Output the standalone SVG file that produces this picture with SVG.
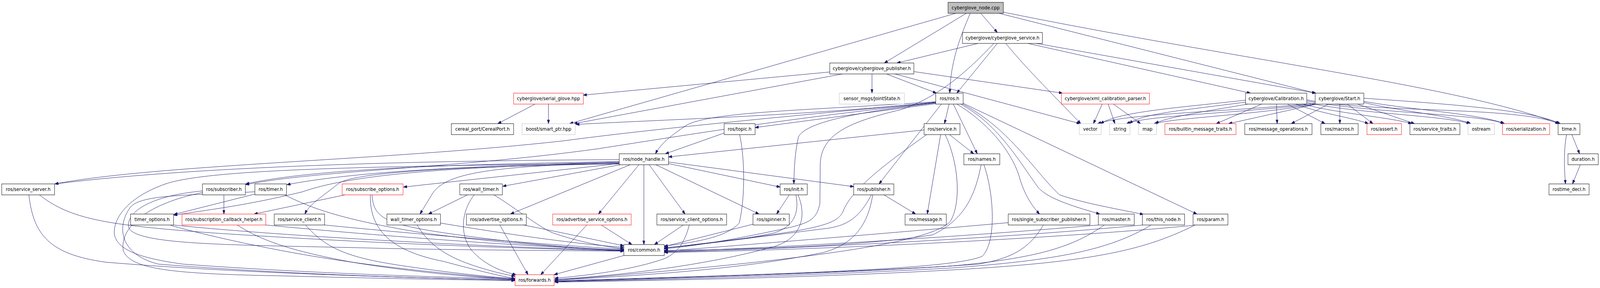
<svg xmlns="http://www.w3.org/2000/svg" width="4545" height="736" viewBox="0 0 4545 736" preserveAspectRatio="none" style="width:100vw;height:100vh;display:block">
<style>
.n{fill:#fff;stroke:#000;stroke-width:1}
.r{fill:#fff;stroke:#ff0000;stroke-width:1}
.g{fill:#fff;stroke:#bfbfbf;stroke-width:1}
.k{fill:#bfbfbf;stroke:#000;stroke-width:1}
text{font-family:"DejaVu Sans","Liberation Sans",sans-serif;font-size:12.8px;text-anchor:middle;fill:#000}
.e path{fill:none;stroke:#191970;stroke-width:1;marker-end:url(#a)}
</style>
<defs>
<marker id="a" viewBox="0 0 10 7" refX="10" refY="3.5" markerWidth="10" markerHeight="7" orient="auto" markerUnits="userSpaceOnUse"><path d="M0,0 L10,3.5 L0,7 z" fill="#191970" stroke="#191970"/></marker>
</defs>
<rect width="4545" height="736" fill="#fff"/>
<g class="e" id="edges">
<path d="M2715,34 L1618,316"/>
<path d="M2745,34 L2512,161"/>
<path d="M2756,34 C2725,100 2700,160 2698,238"/>
<path d="M2786,34 L2833,83"/>
<path d="M2838,34 L3737,238"/>
<path d="M2850,31 C3500,150 4150,220 4428,316"/>
<path d="M2778,111 L2548,161"/>
<path d="M2833,111 L2718,238"/>
<path d="M2823,111 C2740,190 2660,250 2560,280 C2420,310 2332,340 2330,420 L2329,520 C2320,560 2300,568 2250,580 C2100,610 1980,628 1887,636"/>
<path d="M2357,184 L1657,243"/>
<path d="M2393,189 L1630,316"/>
<path d="M2477,189 L2477,238"/>
<path d="M2518,189 L2660,238"/>
<path d="M2542,189 L3068,316"/>
<path d="M2596,183 L3018,238"/>
<path d="M2857,111 C2920,180 3000,250 3070,316"/>
<path d="M2920,111 L3552,238"/>
<path d="M2944,111 L3738,238"/>
<path d="M1520,266 L1414,316"/>
<path d="M1558,266 L1558,316"/>
<path d="M3131,266 L3106,316"/>
<path d="M3148,266 L3167,316"/>
<path d="M3163,266 L3240,316"/>
<path d="M3538,256 C3350,275 3180,285 3126,316"/>
<path d="M3538,261 C3380,280 3240,290 3208,316"/>
<path d="M3545,266 C3420,285 3310,300 3282,316"/>
<path d="M3584,266 L3455,316"/>
<path d="M3626,266 L3628,316"/>
<path d="M3657,266 L3764,316"/>
<path d="M3681,266 C3750,290 3840,300 3887,316"/>
<path d="M3700,266 C3800,290 3950,300 4010,316"/>
<path d="M3712,262 C3850,290 4100,295 4176,316"/>
<path d="M3712,258 C3900,290 4200,290 4272,316"/>
<path d="M3712,255 C3900,290 4300,270 4430,316"/>
<path d="M3736,264 C3500,285 3200,290 3118,316"/>
<path d="M3736,266 C3500,290 3260,295 3200,316"/>
<path d="M3740,266 C3550,295 3350,300 3278,316"/>
<path d="M3740,266 L3490,316"/>
<path d="M3774,266 L3668,316"/>
<path d="M3806,266 L3806,316"/>
<path d="M3827,266 L3900,316"/>
<path d="M3856,266 L4018,316"/>
<path d="M3874,262 C3980,285 4120,295 4178,316"/>
<path d="M3874,259 C4000,280 4200,290 4274,316"/>
<path d="M3874,251 C4100,265 4350,280 4432,316"/>
<path d="M4465,344 L4487,393"/>
<path d="M4450,344 C4442,380 4443,430 4447,470"/>
<path d="M4489,421 L4467,470"/>
<path d="M2658,261 C2300,295 1900,305 1636,318"/>
<path d="M2658,265 L2145,326"/>
<path d="M2658,262 C2200,300 1850,330 1600,360 C1100,410 450,420 156,470"/>
<path d="M2658,263 C2250,300 1950,345 1700,380 C1300,430 900,435 698,472"/>
<path d="M2658,260 C2300,282 2020,285 1950,320 C1900,350 1875,370 1862,393"/>
<path d="M2674,266 L2497,470"/>
<path d="M2696,266 L2683,316"/>
<path d="M2708,266 L2776,393"/>
<path d="M2718,266 C2800,310 2870,380 2895,450 C2910,500 2935,530 2953,547"/>
<path d="M2729,266 C2840,320 2900,420 2950,480 C2980,510 3060,530 3124,547"/>
<path d="M2735,266 C2870,330 2940,440 3010,498 C3080,520 3180,535 3248,548"/>
<path d="M2736,264 L3400,547"/>
<path d="M2658,263 C2450,285 2290,310 2268,350 C2258,390 2256,430 2255,470"/>
<path d="M2057,340 L1890,393"/>
<path d="M2101,344 C2115,400 2118,500 2100,570 C2060,610 1960,620 1887,629"/>
<path d="M2625,332 L1899,401"/>
<path d="M2697,344 L2766,393"/>
<path d="M2672,344 L2634,547"/>
<path d="M2632,344 C2530,410 2420,480 2395,540 C2375,580 2300,590 1887,634"/>
<path d="M2685,344 C2725,420 2730,520 2700,565 C2660,610 2400,660 1576,716"/>
<path d="M2787,421 C2770,500 2740,560 2650,600 C2450,630 2100,638 1887,640"/>
<path d="M2795,421 C2825,500 2830,620 2790,655 C2700,690 2200,700 1576,718"/>
<path d="M2864,569 C2600,590 2200,620 1887,642"/>
<path d="M2964,575 C2920,640 2870,660 2780,675 C2400,700 1900,710 1576,718"/>
<path d="M3120,575 C2800,600 2300,630 1887,643"/>
<path d="M3137,575 C3050,630 2950,660 2700,680 C2300,700 1900,712 1576,719"/>
<path d="M3246,575 C2900,605 2300,635 1887,644"/>
<path d="M3270,575 C3150,640 3000,665 2700,685 C2300,705 1900,714 1576,720"/>
<path d="M3389,576 C3000,610 2300,640 1887,645"/>
<path d="M3395,575 C3250,640 3100,670 2700,690 C2300,710 1900,716 1576,721"/>
<path d="M2511,498 L2601,547"/>
<path d="M2475,498 C2440,560 2400,578 2346,584 C2200,600 2000,625 1887,633"/>
<path d="M2479,498 C2465,580 2420,625 2340,645 C2100,690 1800,705 1576,716"/>
<path d="M2242,498 L2206,547"/>
<path d="M2261,498 C2272,550 2250,580 2200,595 C2100,615 1950,628 1887,634"/>
<path d="M2267,498 C2295,560 2270,610 2200,630 C2000,680 1750,705 1576,714"/>
<path d="M2139,573 L1887,630"/>
<path d="M1941,575 L1859,625"/>
<path d="M1958,575 C1945,620 1925,645 1890,660 C1800,690 1660,705 1576,711"/>
<path d="M1708,575 L1795,625"/>
<path d="M1667,575 L1536,702"/>
<path d="M1487,575 C1600,595 1700,615 1772,628"/>
<path d="M1420,575 L1500,702"/>
<path d="M1772,653 L1574,702"/>
<path d="M1759,408 C1300,410 600,420 156,470"/>
<path d="M1759,413 C1300,420 900,430 698,470"/>
<path d="M1759,414 C1300,425 1000,440 815,472"/>
<path d="M1759,418 L1146,478"/>
<path d="M1762,421 L1428,476"/>
<path d="M1759,417 C1300,425 1000,445 860,490 C700,525 600,535 494,550"/>
<path d="M1759,419 C1300,425 1000,440 960,470 C920,500 880,520 866,547"/>
<path d="M1759,416 C1400,425 1260,440 1225,500 L1193,547"/>
<path d="M1790,421 L1450,547"/>
<path d="M1815,421 L1700,547"/>
<path d="M1829,421 L1829,625"/>
<path d="M1844,421 L1946,547"/>
<path d="M1863,421 L2156,547"/>
<path d="M1899,418 L2216,478"/>
<path d="M1899,414 L2425,477"/>
<path d="M1759,417 C1100,425 600,430 470,470 C360,505 320,560 325,600 C335,640 400,660 520,675 C900,700 1250,708 1463,713"/>
<path d="M112,498 C200,560 300,575 600,595 C1100,625 1500,635 1772,641"/>
<path d="M82,498 C95,600 140,650 300,670 C700,700 1200,710 1463,716"/>
<path d="M636,498 L636,547"/>
<path d="M575,488 C430,500 360,540 365,580 C380,630 700,625 1100,635 C1400,640 1600,640 1772,642"/>
<path d="M575,492 C420,520 340,580 350,640 C370,690 500,700 800,705 C1100,712 1300,715 1463,717"/>
<path d="M724,496 L494,548"/>
<path d="M809,498 C900,540 1000,565 1200,595 C1450,625 1650,635 1772,639"/>
<path d="M724,490 C550,500 400,495 370,530 C330,580 340,650 450,675 C800,700 1200,712 1463,715"/>
<path d="M980,498 L722,547"/>
<path d="M1057,498 C1060,560 1100,575 1300,600 C1500,625 1650,635 1772,640"/>
<path d="M1052,498 C1050,580 1100,640 1260,668 C1350,690 1420,705 1463,712"/>
<path d="M1328,498 L1217,547"/>
<path d="M1403,498 C1470,535 1530,580 1570,595 C1650,620 1720,630 1772,636"/>
<path d="M1347,498 C1310,540 1305,600 1340,640 C1380,680 1430,695 1466,702"/>
<path d="M494,575 C700,595 1200,625 1772,641"/>
<path d="M485,576 C600,605 800,645 1000,670 C1200,695 1380,708 1463,714"/>
<path d="M755,575 C1100,605 1500,630 1772,640"/>
<path d="M674,575 C750,620 850,645 1000,670 C1200,700 1380,710 1463,714"/>
<path d="M922,575 C1200,600 1550,625 1772,637"/>
<path d="M868,575 C930,640 1000,660 1150,680 C1300,700 1400,708 1463,712"/>
<path d="M1251,570 C1450,600 1650,625 1772,632"/>
<path d="M1185,575 C1220,630 1280,660 1350,680 C1400,695 1440,702 1463,706"/>
</g>
<g id="n_root"><rect class="k" x="2693" y="6" width="157" height="28"/><text x="2771.5" y="24">cyberglove_node.cpp</text></g>
<g id="n_svc"><rect class="n" x="2734" y="83" width="227" height="28"/><text x="2847.5" y="101">cyberglove/cyberglove_service.h</text></g>
<g id="n_pub"><rect class="n" x="2357" y="161" width="239" height="28"/><text x="2476.5" y="179">cyberglove/cyberglove_publisher.h</text></g>
<g id="n_serial"><rect class="r" x="1459" y="238" width="198" height="28"/><text x="1558" y="256">cyberglove/serial_glove.hpp</text></g>
<g id="n_joint"><rect class="g" x="2384" y="238" width="185" height="28"/><text x="2476.5" y="256">sensor_msgs/JointState.h</text></g>
<g id="n_ros"><rect class="n" x="2658" y="238" width="78" height="28"/><text x="2697" y="256">ros/ros.h</text></g>
<g id="n_xml"><rect class="r" x="3015" y="238" width="250" height="28"/><text x="3140" y="256">cyberglove/xml_calibration_parser.h</text></g>
<g id="n_calib"><rect class="n" x="3538" y="238" width="174" height="28"/><text x="3625" y="256">cyberglove/Calibration.h</text></g>
<g id="n_start"><rect class="n" x="3736" y="238" width="138" height="28"/><text x="3805" y="256">cyberglove/Start.h</text></g>
<g id="n_cereal"><rect class="n" x="1282" y="316" width="177" height="28"/><text x="1370.5" y="334">cereal_port/CerealPort.h</text></g>
<g id="n_boost"><rect class="g" x="1483" y="316" width="151" height="28"/><text x="1558.5" y="334">boost/smart_ptr.hpp</text></g>
<g id="n_topic"><rect class="n" x="2057" y="316" width="88" height="28"/><text x="2101" y="334">ros/topic.h</text></g>
<g id="n_rsvc"><rect class="n" x="2625" y="316" width="102" height="28"/><text x="2676" y="334">ros/service.h</text></g>
<g id="n_vector"><rect class="g" x="3066" y="316" width="62" height="28"/><text x="3097" y="334">vector</text></g>
<g id="n_string"><rect class="g" x="3152" y="316" width="58" height="28"/><text x="3181" y="334">string</text></g>
<g id="n_map"><rect class="g" x="3234" y="316" width="51" height="28"/><text x="3259.5" y="334">map</text></g>
<g id="n_builtin"><rect class="r" x="3309" y="316" width="202" height="28"/><text x="3410" y="334">ros/builtin_message_traits.h</text></g>
<g id="n_msgops"><rect class="n" x="3536" y="316" width="191" height="28"/><text x="3631.5" y="334">ros/message_operations.h</text></g>
<g id="n_macros"><rect class="n" x="3752" y="316" width="106" height="28"/><text x="3805" y="334">ros/macros.h</text></g>
<g id="n_assert"><rect class="r" x="3883" y="316" width="98" height="28"/><text x="3932" y="334">ros/assert.h</text></g>
<g id="n_svctraits"><rect class="n" x="4005" y="316" width="142" height="28"/><text x="4076" y="334">ros/service_traits.h</text></g>
<g id="n_ostream"><rect class="g" x="4170" y="316" width="75" height="28"/><text x="4207.5" y="334">ostream</text></g>
<g id="n_serialization"><rect class="r" x="4268" y="316" width="134" height="28"/><text x="4335" y="334">ros/serialization.h</text></g>
<g id="n_time"><rect class="n" x="4426" y="316" width="62" height="28"/><text x="4457" y="334">time.h</text></g>
<g id="n_nh"><rect class="n" x="1759" y="393" width="140" height="28"/><text x="1829" y="411">ros/node_handle.h</text></g>
<g id="n_names"><rect class="n" x="2738" y="393" width="102" height="28"/><text x="2789" y="411">ros/names.h</text></g>
<g id="n_duration"><rect class="n" x="4454" y="393" width="86" height="28"/><text x="4497" y="411">duration.h</text></g>
<g id="n_ssrv"><rect class="n" x="5" y="470" width="150" height="28"/><text x="80" y="488">ros/service_server.h</text></g>
<g id="n_sub"><rect class="n" x="575" y="470" width="122" height="28"/><text x="636" y="488">ros/subscriber.h</text></g>
<g id="n_timer"><rect class="n" x="724" y="470" width="90" height="28"/><text x="769" y="488">ros/timer.h</text></g>
<g id="n_subopt"><rect class="r" x="972" y="470" width="173" height="28"/><text x="1058.5" y="488">ros/subscribe_options.h</text></g>
<g id="n_wtimer"><rect class="n" x="1306" y="470" width="121" height="28"/><text x="1366.5" y="488">ros/wall_timer.h</text></g>
<g id="n_init"><rect class="n" x="2216" y="470" width="77" height="28"/><text x="2254.5" y="488">ros/init.h</text></g>
<g id="n_rpub"><rect class="n" x="2425" y="470" width="114" height="28"/><text x="2482" y="488">ros/publisher.h</text></g>
<g id="n_rtd"><rect class="n" x="4400" y="470" width="114" height="28"/><text x="4457" y="488">rostime_decl.h</text></g>
<g id="n_topt"><rect class="n" x="371" y="547" width="122" height="28"/><text x="432" y="565">timer_options.h</text></g>
<g id="n_sch"><rect class="r" x="517" y="547" width="238" height="28"/><text x="636" y="565">ros/subscription_callback_helper.h</text></g>
<g id="n_sclient"><rect class="n" x="779" y="547" width="143" height="28"/><text x="850.5" y="565">ros/service_client.h</text></g>
<g id="n_wtopt"><rect class="n" x="1099" y="547" width="152" height="28"/><text x="1175" y="565">wall_timer_options.h</text></g>
<g id="n_advopt"><rect class="n" x="1325" y="547" width="170" height="28"/><text x="1410" y="565">ros/advertise_options.h</text></g>
<g id="n_advsopt"><rect class="r" x="1570" y="547" width="223" height="28"/><text x="1681.5" y="565">ros/advertise_service_options.h</text></g>
<g id="n_scopt"><rect class="n" x="1866" y="547" width="198" height="28"/><text x="1965" y="565">ros/service_client_options.h</text></g>
<g id="n_spinner"><rect class="n" x="2139" y="547" width="103" height="28"/><text x="2190.5" y="565">ros/spinner.h</text></g>
<g id="n_message"><rect class="n" x="2571" y="547" width="117" height="28"/><text x="2629.5" y="565">ros/message.h</text></g>
<g id="n_ssp"><rect class="n" x="2864" y="547" width="232" height="28"/><text x="2980" y="565">ros/single_subscriber_publisher.h</text></g>
<g id="n_master"><rect class="n" x="3120" y="547" width="102" height="28"/><text x="3171" y="565">ros/master.h</text></g>
<g id="n_thisnode"><rect class="n" x="3245" y="547" width="120" height="28"/><text x="3305" y="565">ros/this_node.h</text></g>
<g id="n_param"><rect class="n" x="3389" y="547" width="99" height="28"/><text x="3438.5" y="565">ros/param.h</text></g>
<g id="n_common"><rect class="n" x="1772" y="625" width="115" height="28"/><text x="1829.5" y="643">ros/common.h</text></g>
<g id="n_forwards"><rect class="r" x="1463" y="702" width="111" height="28"/><text x="1518.5" y="720">ros/forwards.h</text></g>
</svg>
